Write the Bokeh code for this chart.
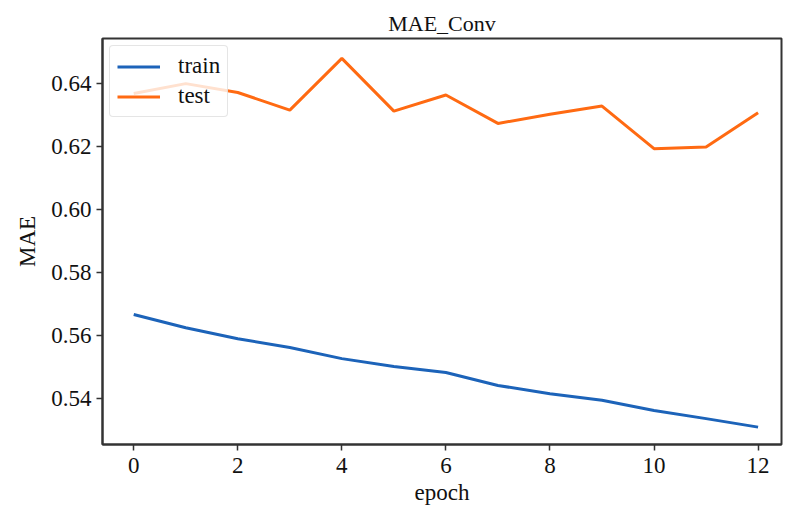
from bokeh.plotting import figure
from bokeh.models import Range1d, FixedTicker, Legend, LegendItem, NumeralTickFormatter
from bokeh.embed import file_html
from bokeh.resources import INLINE

epochs = [0, 1, 2, 3, 4, 5, 6, 7, 8, 9, 10, 11, 12]
train_mae = [0.5667, 0.5625, 0.5590, 0.5562, 0.5527, 0.5502, 0.5483,
             0.5442, 0.5416, 0.5395, 0.5363, 0.5337, 0.5310]
test_mae = [0.6367, 0.6398, 0.6370, 0.6314, 0.6478, 0.6311, 0.6362,
            0.6272, 0.6301, 0.6327, 0.6192, 0.6197, 0.6306]
x_ticks = [0, 2, 4, 6, 8, 10, 12]
y_ticks = [0.54, 0.56, 0.58, 0.60, 0.62, 0.64]

FONT = "Liberation Serif"

p = figure(width=787, height=512, output_backend="svg", toolbar_location=None,
           x_range=Range1d(-0.6, 12.45), y_range=Range1d(0.5255, 0.6541),
           title="MAE_Conv",
           min_border_left=102, min_border_right=6, min_border_top=38, min_border_bottom=68)

p.title.text_font = FONT
p.title.text_font_size = "22px"
p.title.text_font_style = "normal"
p.title.align = "center"
p.title.text_color = "#111111"
p.title.standoff = 6

r_train = p.line(epochs, train_mae, line_color="#1c63b9", line_width=3)
r_test = p.line(epochs, test_mae, line_color="#ff6a12", line_width=3)

p.xgrid.grid_line_color = None
p.ygrid.grid_line_color = None
p.outline_line_color = "#333333"
p.outline_line_width = 2

for ax in (p.xaxis[0], p.yaxis[0]):
    ax.axis_line_color = "#333333"
    ax.axis_line_width = 2
    ax.major_tick_line_color = "#333333"
    ax.major_tick_line_width = 1.5
    ax.major_tick_out = 6
    ax.major_tick_in = 0
    ax.minor_tick_line_color = None
    ax.major_label_text_font = FONT
    ax.major_label_text_font_size = "23px"
    ax.major_label_text_color = "#111111"
    ax.axis_label_text_font = FONT
    ax.axis_label_text_font_size = "23px"
    ax.axis_label_text_font_style = "normal"
    ax.axis_label_text_color = "#111111"

p.xaxis[0].ticker = FixedTicker(ticks=x_ticks)
p.yaxis[0].ticker = FixedTicker(ticks=y_ticks)
p.yaxis[0].formatter = NumeralTickFormatter(format="0.00")
p.xaxis[0].axis_label = "epoch"
p.yaxis[0].axis_label = "MAE"
p.xaxis[0].major_label_standoff = 7
p.yaxis[0].major_label_standoff = 5
p.xaxis[0].axis_label_standoff = 4
p.yaxis[0].axis_label_standoff = 8

legend = Legend(items=[LegendItem(label="train", renderers=[r_train]),
                       LegendItem(label="test", renderers=[r_test])],
                location="top_left")
legend.label_text_font = FONT
legend.label_text_font_size = "23px"
legend.label_text_color = "#111111"
legend.label_height = 25
legend.glyph_height = 25
legend.glyph_width = 43
legend.label_standoff = 18
legend.spacing = 4
legend.padding = 7
legend.margin = 7
legend.border_line_color = "#cccccc"
legend.border_line_width = 1
legend.border_radius = 4
legend.background_fill_alpha = 0.8
p.add_layout(legend)

open("out.html", "w").write(file_html(p, INLINE))
